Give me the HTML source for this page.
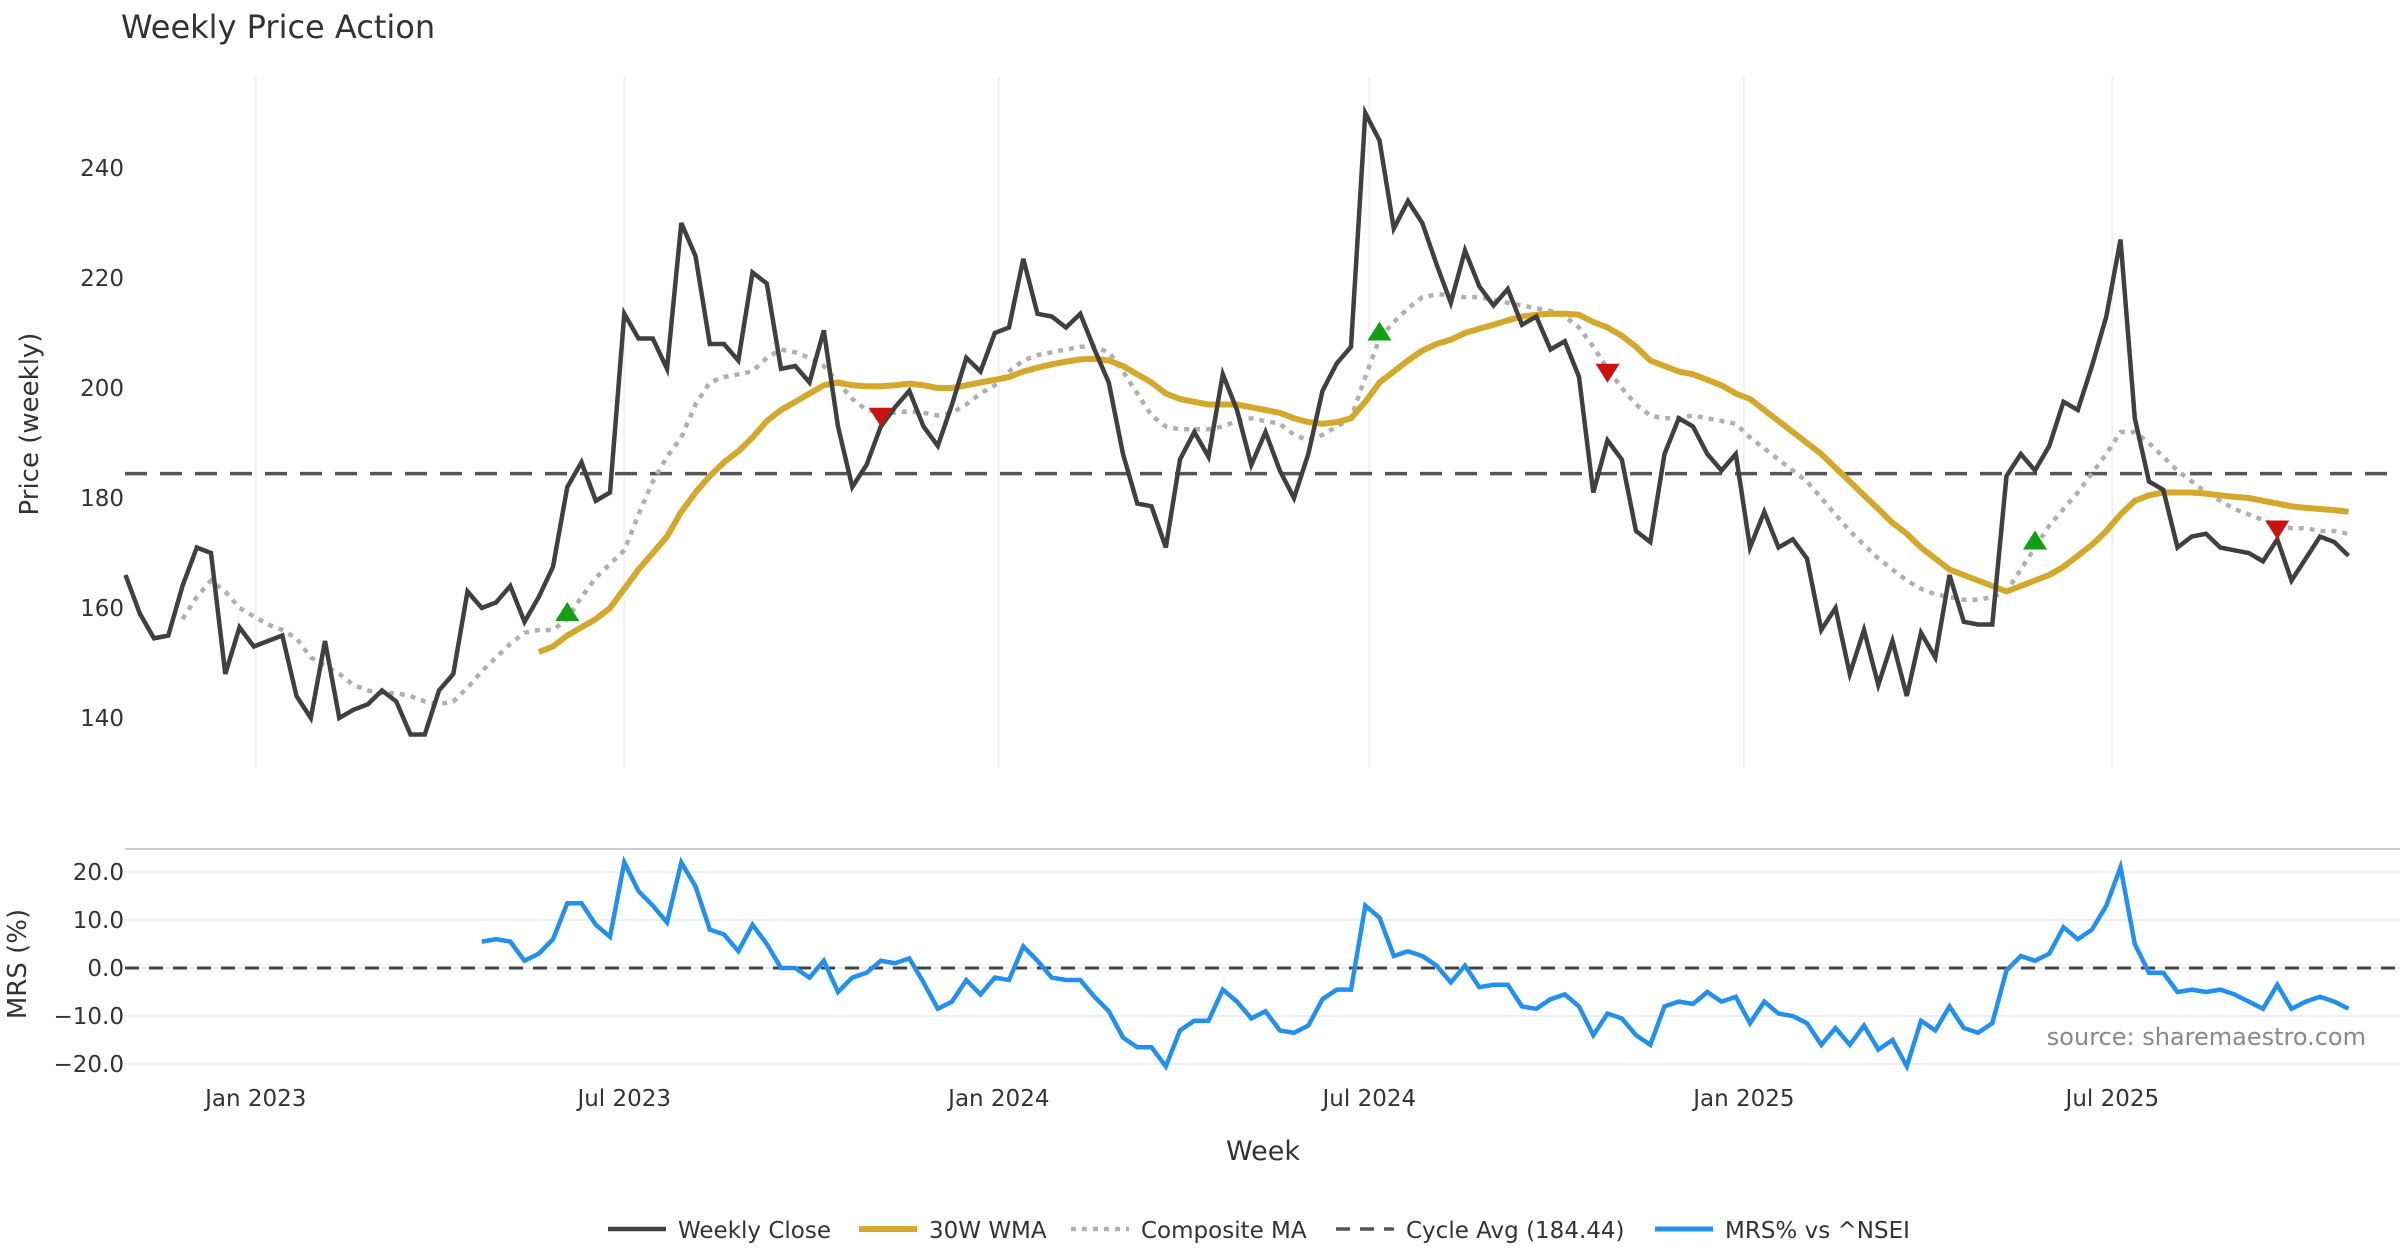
<!DOCTYPE html>
<html><head><meta charset="utf-8"><style>
html,body{margin:0;padding:0;background:#fff}
svg{display:block;font-family:"DejaVu Sans","Liberation Sans",sans-serif}
</style></head><body>
<svg id="chart" width="2400" height="1260" viewBox="0 0 2400 1260" xmlns="http://www.w3.org/2000/svg">
<text x="121" y="38" font-size="32" fill="#333">Weekly Price Action</text>
<g id="grid"></g>
<g id="series"></g>
<g id="axes"></g>
<text transform="translate(38,424) rotate(-90)" text-anchor="middle" font-size="26" fill="#333">Price (weekly)</text>
<text transform="translate(26,964) rotate(-90)" text-anchor="middle" font-size="26" fill="#333">MRS (%)</text>
<text x="1263" y="1160" text-anchor="middle" font-size="27" fill="#333">Week</text>
<text x="2366" y="1045" text-anchor="end" font-size="24" fill="#888">source: sharemaestro.com</text>
<g id="legend"></g>
</svg>
<script>
const startDate = "2022-10-29";
const close = [166,159,154.5,155,164,171,170,148,156.5,153,154,155,144,140,154,140,141.5,142.5,145,143,137,137,145,148,163,160,161,164,157.5,162,167.5,182,186.5,179.5,181,213.5,209,209,203.5,230,224,208,208,205,221,219,203.5,204,201,210.5,193,182,186,193,196.5,199.5,193,189.5,197,205.5,203,210,211,223.5,213.5,213,211,213.5,207,201,188,179,178.5,171,187,192,187.5,202.5,196,186,192,185,180,188,199.5,204.5,207.5,250,245,229,234,230,222.5,215.5,225,218.5,215,218,211.5,213,207,208.5,202,181,190.5,187,174,172,188,194.5,193,188,185,188,171,177.5,171,172.5,169,156,160,148,156,146,154,144,155.5,151,166,157.5,157,157,184,188,185,189.5,197.5,196,204,213,227,194.5,183,181.5,171,173,173.5,171,170.5,170,168.5,172.5,165,169,173,172,169.5];
const wmaStart = 29;
const wma = [152,153,155,156.5,158,160,163.5,167,170,173,177.5,181,184,186.5,188.5,191,194,196,197.5,199,200.5,201,200.5,200.3,200.3,200.5,200.8,200.5,200,200,200.5,201,201.5,202,203,203.7,204.3,204.8,205.2,205.3,205,204,202.5,201,199,198,197.5,197,197,197,196.5,196,195.5,194.5,193.8,193.5,193.8,194.5,197.5,201,203,205,206.8,208,208.8,210,210.8,211.5,212.3,213,213.3,213.5,213.5,213.3,212,211,209.5,207.5,205,204,203,202.5,201.5,200.5,199,198,196,194,192,190,188,185.5,183,180.5,178,175.5,173.5,171,169,167,166,165,164,163,164,165,166,167.5,169.5,171.5,174,177,179.5,180.5,181,181,181,180.8,180.5,180.2,180,179.5,179,178.5,178.2,178,177.8,177.5];
const compStart = 4;
const composite = [158,162,165,163,160,158.5,157,156,154.5,151,149.5,148,146,145,144.5,144.5,144,143,142.5,143,145.5,148.5,151,153.5,155.5,156,156,158,162,165.5,168,170.5,177,183,187.5,191,197,201,202,202.5,203,205.5,207,206.5,205.5,204,201,198,196,195.5,195.5,195.8,195.5,195,195.5,197,199,200.5,203,205,206,206.5,207,207.5,207.5,206.5,203,199,195,193,192.5,192.5,192.5,193,194,194.5,194,193.5,191.5,190.5,191.5,193,194.5,202,209,212,214.5,216.5,217,217,216.5,216.5,216,215.5,215,214.5,214,213,211,207.5,203.5,200,197,195,194.5,194.5,195,194.5,194,193.5,191,189,187,185,183,180,177,174,171.5,169,167,165,163.5,162.5,162,161.5,161.5,162,163,167,171,175,178,181,184.5,188,192,192,190,187.5,185,183,181,179.5,178,177,176,175,174.5,174.5,174,174,173.5];
const mrsStart = 25;
const mrs = [5.5,6,5.5,1.5,3,6,13.5,13.5,9,6.5,22,16,13,9.5,22,17,8,7,3.5,9,5,0,0,-2,1.5,-5,-2,-1,1.5,1,2,-3,-8.5,-7,-2.5,-5.5,-2,-2.5,4.5,1.5,-2,-2.5,-2.5,-6,-9,-14.5,-16.5,-16.5,-20.5,-13,-11,-11,-4.5,-7,-10.5,-9,-13,-13.5,-12,-6.5,-4.5,-4.5,13,10.5,2.5,3.5,2.5,0.5,-3,0.5,-4,-3.5,-3.5,-8,-8.5,-6.5,-5.5,-8,-14,-9.5,-10.5,-14,-16,-8,-7,-7.5,-5,-7,-6,-11.5,-7,-9.5,-10,-11.5,-16,-12.5,-16,-12,-17,-15,-20.5,-11,-13,-8,-12.5,-13.5,-11.5,-0.5,2.5,1.5,3,8.5,6,8,13,21,5,-1,-1,-5,-4.5,-5,-4.5,-5.5,-7,-8.5,-3.5,-8.5,-7,-6,-7,-8.5];
const buyIdx = [31,88,134];
const sellIdx = [53,104,151];
const cycleAvg = 184.44;
const priceTicks = [140,160,180,200,220,240];
const mrsTicks = [20,10,0,-10,-20];
const mrsTickLabels = ["20.0","10.0","0.0","\u221210.0","\u221220.0"];
const dateTicks = ["2023-01-01","2023-07-01","2024-01-01","2024-07-01","2025-01-01","2025-07-01"];
const dateTickLabels = ["Jan 2023","Jul 2023","Jan 2024","Jul 2024","Jan 2025","Jul 2025"];

const NS="http://www.w3.org/2000/svg";
const X0=125.5, WK=14.25, PL=125, PR=2400;
const t0=Date.parse(startDate);
function xIdx(i){return X0+WK*i;}
function xDate(d){return X0+WK*((Date.parse(d)-t0)/(7*864e5));}
function yP(v){return 168+(240-v)*5.5;}
function yM(v){return 968-v*4.8;}
function mk(tag,attrs,parent){const e=document.createElementNS(NS,tag);for(const k in attrs)e.setAttribute(k,attrs[k]);parent.appendChild(e);return e;}
const grid=document.getElementById('grid'),ser=document.getElementById('series'),ax=document.getElementById('axes'),lg=document.getElementById('legend');

dateTicks.forEach((d,k)=>{
  const x=xDate(d);
  const g=mk('line',{x1:x,x2:x,y1:77,y2:768,stroke:'#eef0f3','stroke-width':2},grid);
  
  
  const t=mk('text',{x:x,y:1106,'text-anchor':'middle','font-size':23,fill:'#333'},ax);
  t.textContent=dateTickLabels[k];
  
  
});
priceTicks.forEach(v=>{
  const t=mk('text',{x:124,y:yP(v)+8,'text-anchor':'end','font-size':23,fill:'#333'},ax);
  t.textContent=v;
  
  
});
const sep=mk('line',{x1:PL,x2:PR,y1:849,y2:849,stroke:'#ccc','stroke-width':2},grid);


mrsTicks.forEach((v,k)=>{
  const l=mk('line',{x1:PL,x2:PR,y1:yM(v),y2:yM(v),stroke:'#eceef2','stroke-width':2},grid);
  
  
  const t=mk('text',{x:124,y:yM(v)+8,'text-anchor':'end','font-size':23,fill:'#333'},ax);
  t.textContent=mrsTickLabels[k];
  
  
});
const z=mk('line',{x1:PL,x2:PR,y1:yM(0),y2:yM(0),stroke:'#444','stroke-width':3,'stroke-dasharray':'14 10'},ser);



function path(arr,start,yf){return arr.map((v,i)=>(i?'L':'M')+xIdx(start+i).toFixed(1)+' '+yf(v).toFixed(1)).join(' ');}
const cy=mk('line',{x1:PL,x2:PR,y1:yP(cycleAvg),y2:yP(cycleAvg),stroke:'#555','stroke-width':3.5,'stroke-dasharray':'22 13'},ser);


const pc=mk('path',{d:path(composite,compStart,yP),fill:'none',stroke:'#b0b0b0','stroke-width':4.5,'stroke-dasharray':'5 6'},ser);


const pw=mk('path',{d:path(wma,wmaStart,yP),fill:'none',stroke:'#d4a82a','stroke-width':6,'stroke-linejoin':'round'},ser);


const pcl=mk('path',{d:path(close,0,yP),fill:'none',stroke:'#404040','stroke-width':4.5,'stroke-linejoin':'miter'},ser);


buyIdx.forEach(i=>{
  const x=xIdx(i),y=yP(composite[i-compStart])-6;
  const p=mk('polygon',{points:`${x-12},${y+8} ${x+12},${y+8} ${x},${y-11}`,fill:'#11a011'},ser);
  
  
});
sellIdx.forEach(i=>{
  const x=xIdx(i),y=yP(composite[i-compStart])+5;
  const p=mk('polygon',{points:`${x-12},${y-10} ${x+12},${y-10} ${x},${y+9}`,fill:'#cc1111'},ser);
  
  
});
const pm=mk('path',{d:path(mrs,mrsStart,yM),fill:'none',stroke:'#2290ee','stroke-width':4.5,'stroke-linejoin':'miter'},ser);



const legendItems=[
 {label:"Weekly Close",x:608,stroke:'#404040',dash:'',w:4.5,name:'legend-weekly-close'},
 {label:"30W WMA",x:859,stroke:'#d4a82a',dash:'',w:6,name:'legend-wma'},
 {label:"Composite MA",x:1071,stroke:'#b0b0b0',dash:'5 6',w:4.5,name:'legend-composite-ma'},
 {label:"Cycle Avg (184.44)",x:1336,stroke:'#555',dash:'14 10',w:3.5,name:'legend-cycle-avg'},
 {label:"MRS% vs ^NSEI",x:1655,stroke:'#2290ee',dash:'',w:5,name:'legend-mrs'}];
legendItems.forEach(it=>{
  const g=mk('g',{},lg);
  
  
  const a={x1:it.x,x2:it.x+58,y1:1229,y2:1229,stroke:it.stroke,'stroke-width':it.w};
  if(it.dash)a['stroke-dasharray']=it.dash;
  mk('line',a,g);
  const t=mk('text',{x:it.x+70,y:1238,'font-size':23,fill:'#333'},g);
  t.textContent=it.label;
});
</script>
</body></html>
